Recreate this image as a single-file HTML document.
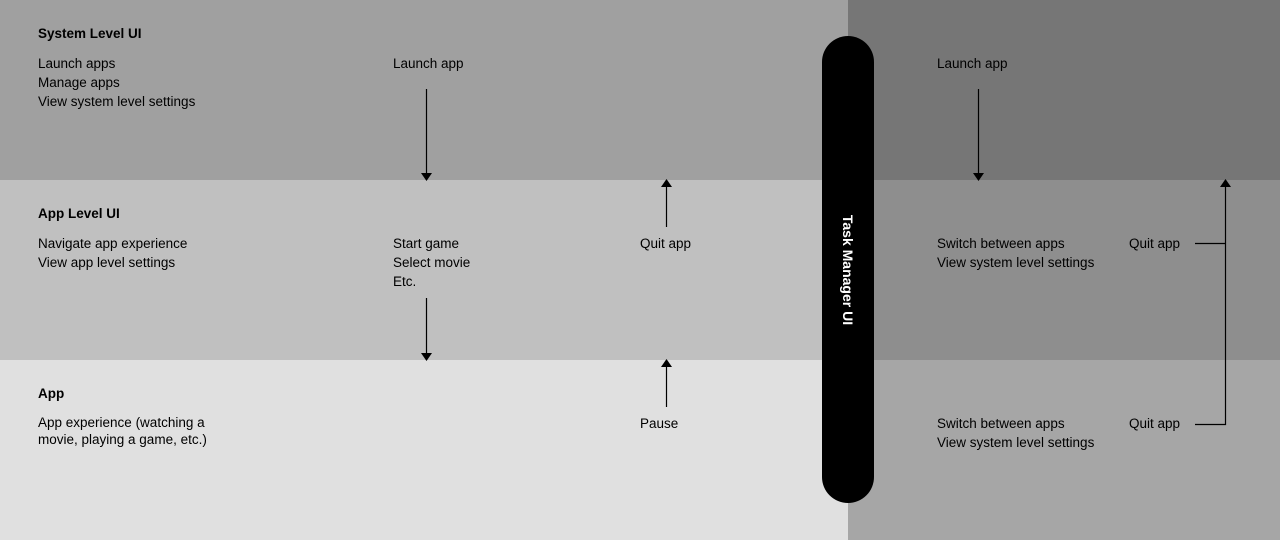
<!DOCTYPE html>
<html><head><style>
body{margin:0;width:1280px;height:540px;position:relative;overflow:hidden;font-family:"Liberation Sans",sans-serif;font-size:13.5px;color:#000}
.r{position:absolute}
.t{position:absolute;line-height:19px;white-space:nowrap}
b{font-weight:bold}
</style></head><body>
<div class="r" style="left:0;top:0;width:848px;height:180px;background:#a0a0a0"></div>
<div class="r" style="left:0;top:180px;width:848px;height:180px;background:#c0c0c0"></div>
<div class="r" style="left:0;top:360px;width:848px;height:180px;background:#e0e0e0"></div>
<div class="r" style="left:848px;top:0;width:432px;height:180px;background:#767676"></div>
<div class="r" style="left:848px;top:180px;width:432px;height:180px;background:#8e8e8e"></div>
<div class="r" style="left:848px;top:360px;width:432px;height:180px;background:#a6a6a6"></div>
<div class="r" style="left:822px;top:36px;width:52px;height:467px;background:#000;border-radius:26px"></div>
<div class="r" style="left:848px;top:270px;transform:translate(-50%,-50%) rotate(90deg);color:#fff;font-weight:bold;font-size:14px;white-space:nowrap">Task Manager UI</div>

<div class="t" style="left:38px;top:24px"><b>System Level UI</b></div>
<div class="t" style="left:38px;top:54px">Launch apps<br>Manage apps<br>View system level settings</div>
<div class="t" style="left:393px;top:54px">Launch app</div>
<div class="t" style="left:937px;top:54px">Launch app</div>

<div class="t" style="left:38px;top:204px"><b>App Level UI</b></div>
<div class="t" style="left:38px;top:234px">Navigate app experience<br>View app level settings</div>
<div class="t" style="left:393px;top:234px">Start game<br>Select movie<br>Etc.</div>
<div class="t" style="left:640px;top:234px">Quit app</div>
<div class="t" style="left:937px;top:234px">Switch between apps<br>View system level settings</div>
<div class="t" style="left:1129px;top:234px">Quit app</div>

<div class="t" style="left:38px;top:384px"><b>App</b></div>
<div class="t" style="left:38px;top:414px;line-height:17px">App experience (watching a<br>movie, playing a game, etc.)</div>
<div class="t" style="left:640px;top:414px">Pause</div>
<div class="t" style="left:937px;top:414px">Switch between apps<br>View system level settings</div>
<div class="t" style="left:1129px;top:414px">Quit app</div>

<svg class="r" style="left:0;top:0" width="1280" height="540">
<g stroke="#000" stroke-width="1.2" fill="none">
<line x1="426.5" y1="89" x2="426.5" y2="174"/>
<line x1="426.5" y1="298" x2="426.5" y2="354"/>
<line x1="666.5" y1="227" x2="666.5" y2="186"/>
<line x1="666.5" y1="407" x2="666.5" y2="366"/>
<line x1="978.5" y1="89" x2="978.5" y2="174"/>
<polyline points="1195,243.5 1225.5,243.5"/>
<polyline points="1195,424.5 1225.5,424.5 1225.5,186"/>
</g>
<g fill="#000">
<polygon points="421,173 432,173 426.5,181"/>
<polygon points="421,353 432,353 426.5,361"/>
<polygon points="661,187 672,187 666.5,179"/>
<polygon points="661,367 672,367 666.5,359"/>
<polygon points="973,173 984,173 978.5,181"/>
<polygon points="1220,187 1231,187 1225.5,179"/>
</g>
</svg>
</body></html>
